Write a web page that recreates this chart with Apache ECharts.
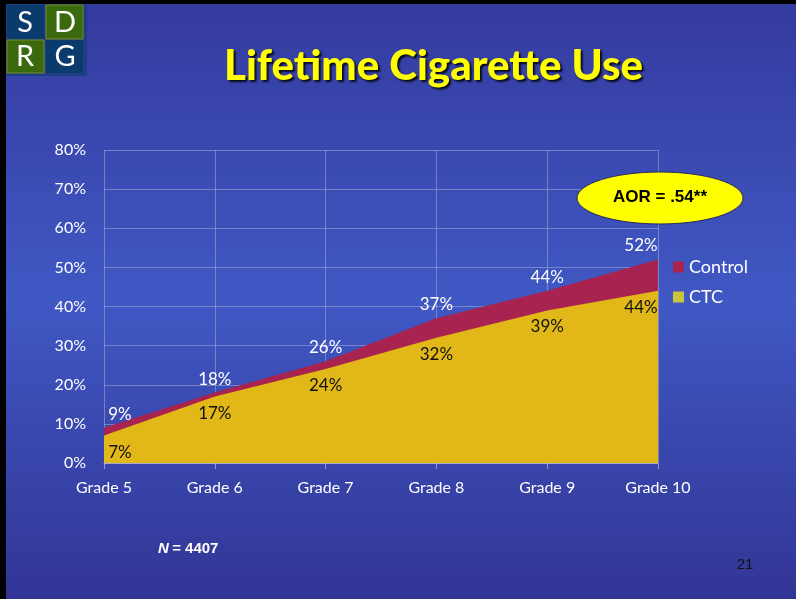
<!DOCTYPE html>
<html>
<head>
<meta charset="utf-8">
<title>Lifetime Cigarette Use</title>
<script src="https://cdn.jsdelivr.net/npm/echarts@6/dist/echarts.min.js"></script>
<style>
  html, body { margin: 0; padding: 0; }
  #chart { width: 796px; height: 599px; }
</style>
</head>
<body>
<div id="chart"></div>
<script>
const grades = ['Grade 5', 'Grade 6', 'Grade 7', 'Grade 8', 'Grade 9', 'Grade 10']
const controlValues = [9, 18, 26, 37, 44, 52]
const ctcValues = [7, 17, 24, 32, 39, 44]
const yTicks = [0, 10, 20, 30, 40, 50, 60, 70, 80]

const FONT = 'Lato, "Open Sans", sans-serif'
const last = grades.length - 1

// nudge the end labels inward so they stay inside the plot
const edgeOffset = (i) => (i === 0 ? 16 : i === last ? -17 : 0)

const chart = echarts.init(document.getElementById('chart'))

const option = {
  backgroundColor: new echarts.graphic.LinearGradient(0, 0, 0, 1, [
    { offset: 0, color: '#343a9e' },
    { offset: 0.5, color: '#4058c4' },
    { offset: 1, color: '#323595' }
  ]),
  animation: false,
  title: {
    text: 'Lifetime Cigarette Use',
    left: 219,
    top: 40,
    textStyle: {
      fontFamily: FONT,
      fontSize: 42,
      fontWeight: 900,
      color: '#ffff00',
      textShadowColor: 'rgba(0,0,0,0.85)',
      textShadowOffsetX: 2,
      textShadowOffsetY: 2,
      textShadowBlur: 2
    }
  },
  legend: {
    orient: 'vertical',
    left: 668,
    top: 253,
    itemWidth: 11,
    itemHeight: 11,
    itemGap: 12,
    icon: 'rect',
    textStyle: { color: '#ffffff', fontFamily: FONT, fontSize: 18 },
    data: [
      { name: 'Control', itemStyle: { color: '#a8234f' } },
      { name: 'CTC', itemStyle: { color: '#c9c63a' } }
    ]
  },
  grid: { left: 104, right: 138, top: 150, bottom: 136 },
  xAxis: {
    type: 'category',
    data: grades,
    boundaryGap: false,
    axisLine: { lineStyle: { color: 'rgba(190,190,210,0.7)' } },
    axisTick: { show: true, length: 6, lineStyle: { color: 'rgba(190,190,210,0.7)' } },
    axisLabel: { color: '#ffffff', fontFamily: FONT, fontSize: 16, margin: 17 },
    splitLine: { show: true, lineStyle: { color: 'rgba(190,190,215,0.45)', width: 1 } }
  },
  yAxis: {
    type: 'value',
    min: yTicks[0],
    max: yTicks[yTicks.length - 1],
    interval: 10,
    axisLine: { show: false },
    axisTick: { show: false },
    axisLabel: { color: '#ffffff', fontFamily: FONT, fontSize: 16, margin: 18, formatter: '{value}%' },
    splitLine: { lineStyle: { color: 'rgba(190,190,215,0.45)', width: 1 } }
  },
  series: [
    {
      name: 'Control',
      type: 'line',
      data: controlValues.map((v, i) => ({
        value: v,
        label: { offset: [edgeOffset(i), 0] }
      })),
      symbol: 'circle',
      symbolSize: 0.1,
      showSymbol: true,
      lineStyle: { width: 0 },
      itemStyle: { color: '#a8234f' },
      areaStyle: { color: '#a8234f', opacity: 1 },
      label: {
        show: true,
        position: 'top',
        distance: 5,
        color: '#ffffff',
        fontFamily: FONT,
        fontSize: 17,
        formatter: '{c}%'
      },
      z: 2
    },
    {
      name: 'CTC',
      type: 'line',
      data: ctcValues.map((v, i) => ({
        value: v,
        label: { offset: [edgeOffset(i), 0] }
      })),
      symbol: 'circle',
      symbolSize: 0.1,
      showSymbol: true,
      lineStyle: { width: 0 },
      itemStyle: { color: '#c9c63a' },
      areaStyle: { color: '#e1b817', opacity: 1 },
      label: {
        show: true,
        position: 'bottom',
        distance: 8,
        color: '#111111',
        fontFamily: FONT,
        fontSize: 17,
        formatter: '{c}%'
      },
      z: 3
    }
  ],
  graphic: [
    // black frame on top and left edges
    { type: 'rect', shape: { x: 0, y: 0, width: 796, height: 4 }, style: { fill: '#000' }, z: 100 },
    { type: 'rect', shape: { x: 0, y: 0, width: 6, height: 599 }, style: { fill: '#000' }, z: 100 },
    // SDRG logo
    { type: 'rect', shape: { x: 6, y: 4, width: 81, height: 72 }, style: { fill: '#1c3f86' }, z: 90 },
    { type: 'rect', shape: { x: 7, y: 5, width: 37, height: 34 }, style: { fill: '#0b3a6c' }, z: 91 },
    { type: 'rect', shape: { x: 46, y: 5, width: 37, height: 34 }, style: { fill: '#3b6a0e', stroke: '#7a8a20', lineWidth: 1 }, z: 91 },
    { type: 'rect', shape: { x: 7, y: 40, width: 37, height: 33 }, style: { fill: '#3b6a0e', stroke: '#7a8a20', lineWidth: 1 }, z: 91 },
    { type: 'rect', shape: { x: 46, y: 40, width: 37, height: 33 }, style: { fill: '#0b3a6c' }, z: 91 },
    { type: 'text', x: 25, y: 23, style: { text: 'S', fill: '#fff', font: '29px ' + FONT, textAlign: 'center', textVerticalAlign: 'middle' }, z: 92 },
    { type: 'text', x: 65, y: 23, style: { text: 'D', fill: '#fff', font: '29px ' + FONT, textAlign: 'center', textVerticalAlign: 'middle' }, z: 92 },
    { type: 'text', x: 25, y: 57, style: { text: 'R', fill: '#fff', font: '29px ' + FONT, textAlign: 'center', textVerticalAlign: 'middle' }, z: 92 },
    { type: 'text', x: 65, y: 57, style: { text: 'G', fill: '#fff', font: '29px ' + FONT, textAlign: 'center', textVerticalAlign: 'middle' }, z: 92 },
    // AOR callout
    { type: 'ellipse', shape: { cx: 660, cy: 198, rx: 83, ry: 26 }, style: { fill: '#ffff00', stroke: '#2a2a5a', lineWidth: 1 }, z: 50 },
    { type: 'text', x: 660, y: 197, style: { text: 'AOR = .54**', fill: '#000', font: 'bold 17px Arial, "Liberation Sans", sans-serif', textAlign: 'center', textVerticalAlign: 'middle' }, z: 51 },
    // sample size and slide number
    {
      type: 'text', x: 158, y: 549,
      style: {
        text: '{i|N} {b|= 4407}',
        rich: {
          i: { font: 'italic bold 15px "Liberation Sans Narrow", Arial, sans-serif', fill: '#fff' },
          b: { font: 'bold 15px "Liberation Sans Narrow", Arial, sans-serif', fill: '#fff' }
        },
        textVerticalAlign: 'middle'
      },
      z: 50
    },
    { type: 'text', x: 745, y: 565, style: { text: '21', fill: '#111', font: '15px Arial, "Liberation Sans", sans-serif', textAlign: 'center', textVerticalAlign: 'middle' }, z: 50 }
  ]
}

chart.setOption(option)
</script>
</body>
</html>
